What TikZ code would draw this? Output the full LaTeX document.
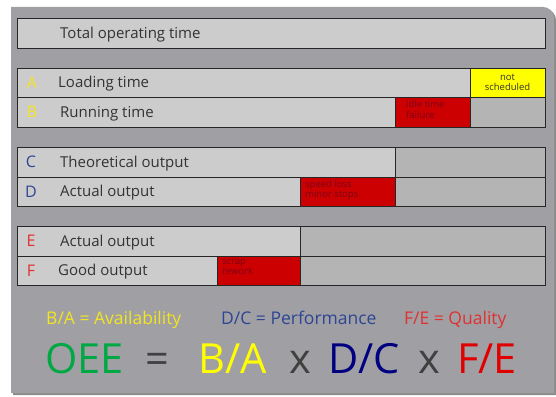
\documentclass[tikz,border=0pt]{standalone}
\usepackage{fontspec}
\setmainfont{Open Sans}
\usepackage{xcolor}
\usetikzlibrary{positioning,calc}

\definecolor{panel}{HTML}{A0A0A4}
\definecolor{cellhi}{HTML}{CCCCCC}
\definecolor{cellgray}{HTML}{B4B4B4}
\definecolor{cellyel}{HTML}{FFFF00}
\definecolor{cellred}{HTML}{CC0000}
\definecolor{txtred}{HTML}{800018}
\definecolor{letyel}{HTML}{F2E422}
\definecolor{letblue}{HTML}{2E4594}
\definecolor{letred}{HTML}{E03030}
\definecolor{oeegreen}{HTML}{00A844}
\definecolor{oeeblue}{HTML}{000080}
\definecolor{oeered}{HTML}{E00000}
\definecolor{opgray}{HTML}{404040}

\tikzset{
  cell/.style={draw=black!85, line width=0.9pt, inner sep=0pt, outer sep=0pt,
    anchor=south west, minimum height=29.5pt},
  lbl/.style={anchor=base west, yshift=-5pt, inner sep=0pt, font=\fontsize{15}{17}\selectfont, text=black!80},
  letter/.style={anchor=base, yshift=-5.5pt, inner sep=0pt, font=\fontsize{16}{18}\selectfont},
  loss/.style={anchor=north west, inner sep=0pt, align=left, text=txtred,
    font=\fontsize{9.5}{10.5}\selectfont},
  ratio/.style={anchor=base west, inner sep=0pt, font=\fontsize{17.5}{20}\selectfont},
  big/.style={anchor=base west, inner sep=0pt, font=\fontsize{41.5}{46}\selectfont}
}

\begin{document}
\begin{tikzpicture}[x=1pt, y=1pt]
  \useasboundingbox (0,0) rectangle (556,396);
  % Panel
  \fill[black!45] (13,1) -- (13,387) -- (545,387) arc (90:0:11) -- (556,1) -- cycle;
  \fill[panel] (11,3) -- (11,389) -- (543,389) arc (90:0:11) -- (554,3) -- cycle;

  % Total operating time
  \node[cell, fill=cellhi, minimum width=528pt] (tot) at (17,348) {};
  \node[lbl] (totlbl) at (60,362.5) {Total operating time};

  % A: loading time
  \node[cell, fill=cellhi, minimum width=453pt] (rowA) at (17,298.5) {};
  \node[cell, fill=cellyel, minimum width=75pt] (notsch) at (470,298.5) {};
  \node[letter, text=letyel] (letA) at (32,313) {A};
  \node[lbl] (lblA) at (58,313) {Loading time};
  \node[align=center, inner sep=0pt, text=black!80, font=\fontsize{9.5}{10}\selectfont] (notschtxt) at (notsch.center) {not\\scheduled};

  % B: running time
  \node[cell, fill=cellhi, minimum width=378pt] (rowB) at (17,269) {};
  \node[cell, fill=cellred, minimum width=75pt] (idle) at (395,269) {};
  \node[cell, fill=cellgray, minimum width=75pt] (restB) at (470,269) {};
  \node[letter, text=letyel] (letB) at (32,283.5) {B};
  \node[lbl] (lblB) at (60,283.5) {Running time};
  \node[loss] (idletxt) at ($(idle.north west)+(11,-3)$) {idle time\\failure};

  % C: theoretical output
  \node[cell, fill=cellhi, minimum width=378pt] (rowC) at (17,219) {};
  \node[cell, fill=cellgray, minimum width=150pt] (restC) at (395,219) {};
  \node[letter, text=letblue] (letC) at (31,233.5) {C};
  \node[lbl] (lblC) at (60,233.5) {Theoretical output};

  % D: actual output
  \node[cell, fill=cellhi, minimum width=283pt] (rowD) at (17,189.5) {};
  \node[cell, fill=cellred, minimum width=95pt] (speed) at (300,189.5) {};
  \node[cell, fill=cellgray, minimum width=150pt] (restD) at (395,189.5) {};
  \node[letter, text=letblue] (letD) at (31,204) {D};
  \node[lbl] (lblD) at (60,204) {Actual output};
  \node[loss] (speedtxt) at ($(speed.north west)+(5,-3)$) {speed loss\\minor stops};

  % E: actual output
  \node[cell, fill=cellhi, minimum width=283pt] (rowE) at (17,140) {};
  \node[cell, fill=cellgray, minimum width=245pt] (restE) at (300,140) {};
  \node[letter, text=letred] (letE) at (31,154.5) {E};
  \node[lbl] (lblE) at (60,154.5) {Actual output};

  % F: good output
  \node[cell, fill=cellhi, minimum width=200pt] (rowF) at (17,110.5) {};
  \node[cell, fill=cellred, minimum width=83pt] (scrap) at (217,110.5) {};
  \node[cell, fill=cellgray, minimum width=245pt] (restF) at (300,110.5) {};
  \node[letter, text=letred] (letF) at (31,125) {F};
  \node[lbl] (lblF) at (58,125) {Good output};
  \node[loss] (scraptxt) at ($(scrap.north west)+(5,-3)$) {scrap\\rework};

  % Ratios
  \node[ratio, text=letyel] (avail) at (46,71) {B/A = Availability};
  \node[ratio, text=letblue] (perf) at (221,71) {D/C = Performance};
  \node[ratio, text=letred] (qual) at (404,71) {F/E = Quality};

  % OEE formula
  \node[big, text=oeegreen] (oee) at (45,23) {OEE};
  \node[big, text=opgray] (eq) at (145,23) {=};
  \node[big, text=cellyel] (ba) at (198,23) {B/A};
  \node[big, text=opgray] (x1) at (289,23) {x};
  \node[big, text=oeeblue] (dc) at (328,23) {D/C};
  \node[big, text=opgray] (x2) at (418,23) {x};
  \node[big, text=oeered] (fe) at (457,23) {F/E};
\end{tikzpicture}
\end{document}
